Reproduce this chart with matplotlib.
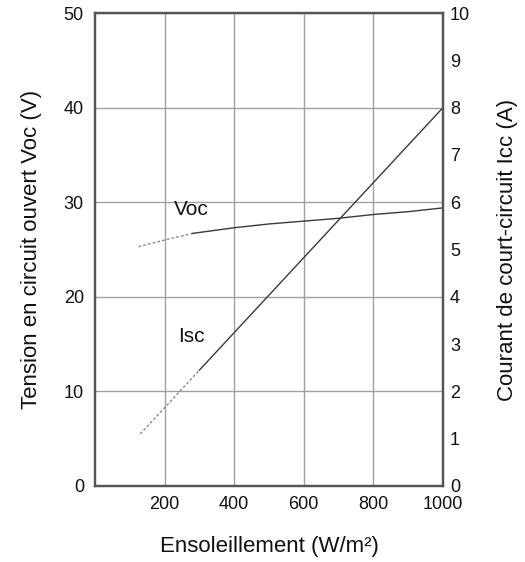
import matplotlib
matplotlib.use("Agg")
import matplotlib.pyplot as plt

plt.rcParams['font.family'] = ['Liberation Sans', 'DejaVu Sans']

# Irradiance (W/m2) and open-circuit voltage (V)
g_low = [125, 200, 280]
voc_low = [25.3, 26.0, 26.7]
g_high = [280, 400, 500, 600, 700, 800, 900, 1000]
voc_high = [26.7, 27.3, 27.7, 28.0, 28.3, 28.7, 29.0, 29.4]

# Irradiance (W/m2) and short-circuit current (A)
isc_g_low = [130, 300]
isc_low = [1.1, 2.45]
isc_g_high = [300, 1000]
isc_high = [2.45, 8.0]

x_ticks = [200, 400, 600, 800, 1000]
left_ticks = [0, 10, 20, 30, 40, 50]
right_ticks = list(range(0, 11))

fig = plt.figure(figsize=(5.25, 5.62), dpi=100)
ax = fig.add_axes([95/525, 1-486/562, (443-95)/525, (486-13)/562])
ax2 = ax.twinx()

ax.set_xlim(0, 1000)
ax.set_ylim(0, 50)
ax2.set_ylim(0, 10)

ax.set_xticks(x_ticks)
ax.set_yticks(left_ticks)
ax2.set_yticks(right_ticks)

ax.grid(True, color='#a0a0a0', linewidth=1.0)
ax.set_axisbelow(True)

line_col = '#3a3a3a'
ax.plot(g_low, voc_low, color='#8a8a8a', linewidth=1.0, linestyle=(0, (2, 1.5)))
ax.plot(g_high, voc_high, color=line_col, linewidth=1.0)
ax2.plot(isc_g_low, isc_low, color='#8a8a8a', linewidth=1.0, linestyle=(0, (2, 1.5)))
ax2.plot(isc_g_high, isc_high, color=line_col, linewidth=1.0)

ax.text(277, 29.2, 'Voc', fontsize=15, ha='center', va='center', color='#111')
ax.text(277, 15.8, 'Isc', fontsize=15, ha='center', va='center', color='#111')

for a in (ax, ax2):
    for s in a.spines.values():
        s.set_color('#555555')
        s.set_linewidth(1.6)

ax.tick_params(axis='x', length=0, labelsize=13, colors='#111', pad=7)
ax.tick_params(axis='y', length=0, labelsize=13, colors='#111', pad=8)
ax2.tick_params(axis='y', length=0, labelsize=13, colors='#111', pad=5)

ax.set_xlabel('Ensoleillement (W/m²)', fontsize=16, color='#111', va='top')
ax.set_ylabel('Tension en circuit ouvert Voc (V)', fontsize=16, color='#111', va='center')
ax2.set_ylabel('Courant de court-circuit Icc (A)', fontsize=16, color='#111', va='center')
ax.xaxis.set_label_coords(0.5, (486-536)/473)
ax.yaxis.set_label_coords((32-95)/348, 0.5)
ax2.yaxis.set_label_coords((507-95)/348, 0.5)

fig.savefig('out.png', dpi=100)
